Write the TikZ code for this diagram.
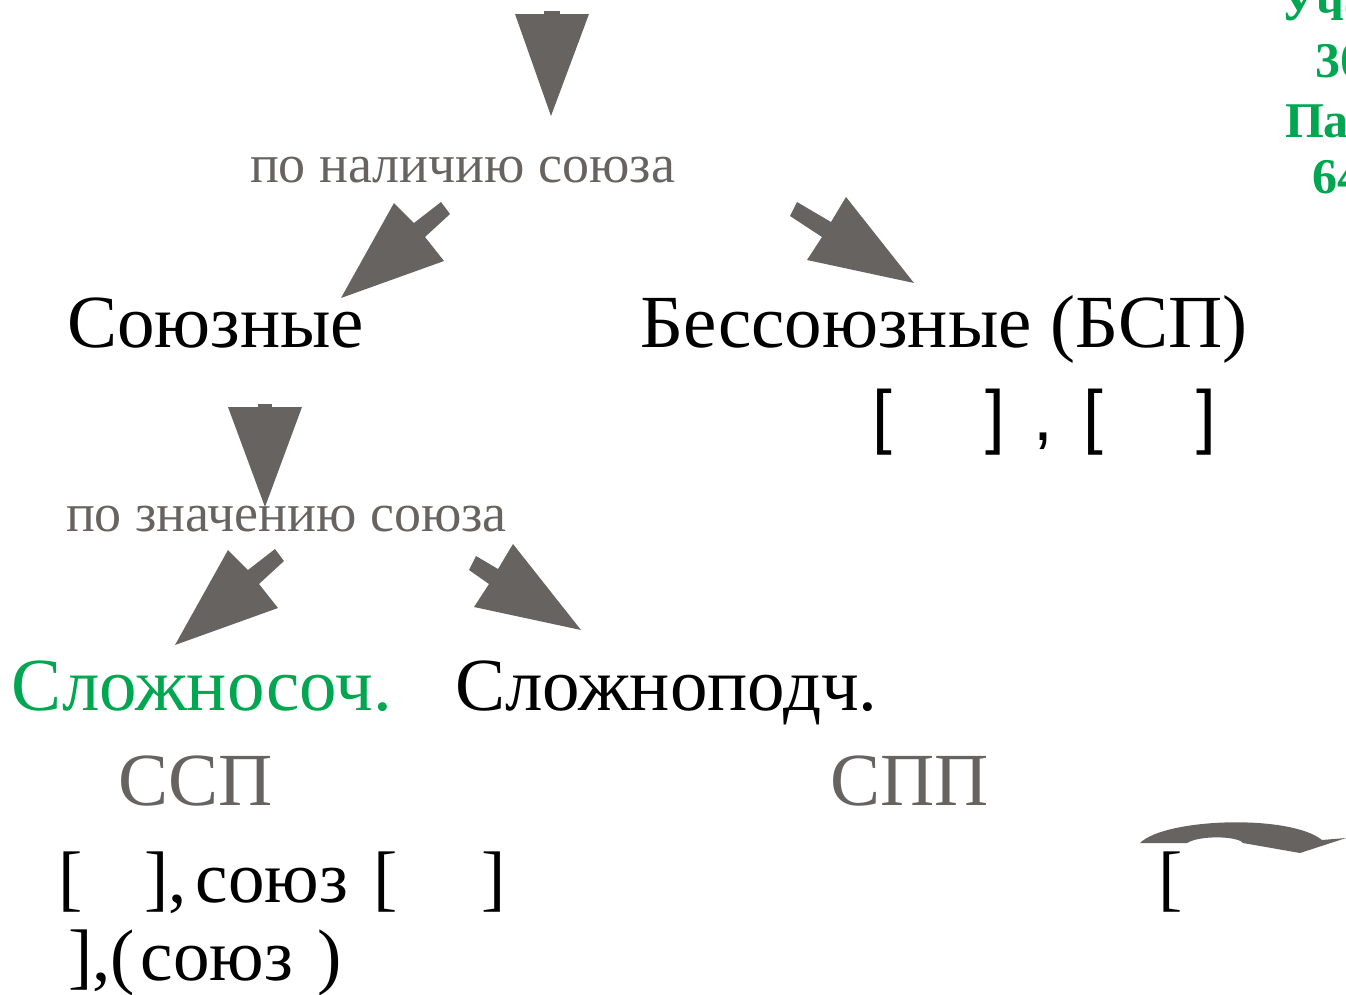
\documentclass[tikz,border=0pt]{standalone}
\usepackage{fontspec}
\setmainfont{Liberation Serif}
\newfontfamily\brfont{Liberation Sans}
\definecolor{arrgray}{HTML}{676361}
\definecolor{txtgray}{HTML}{676361}
\definecolor{mygreen}{HTML}{00A650}
\begin{document}
\begin{tikzpicture}[x=1pt,y=-1pt,
  lbl/.style={anchor=base west,inner sep=0pt,outer sep=0pt},
  big/.style={lbl,font=\fontsize{75}{80}\selectfont},
  grey/.style={lbl,text=txtgray,font=\fontsize{54}{58}\selectfont},
  side/.style={lbl,text=mygreen,font=\fontsize{50}{54}\selectfont\bfseries},
  blk/.style={fill=arrgray,draw=none}]
\useasboundingbox (0,0) rectangle (1346,994);
% top vertical arrow
\fill[blk] (544,11) rectangle (560,15);
\fill[blk] (515,14) -- (589,14) -- (551,116) -- cycle;
\node[grey] (t1) at (250,182) {по наличию союза};
% upper left arrow
\fill[blk] (341,298) -- (394,203) -- (414,223) -- (441,202) -- (450,214) -- (425,237) -- (444,261) -- cycle;
% upper right arrow
\fill[blk] (914,283) -- (846,197) -- (831,222) -- (797,202) -- (790,216) -- (822,237) -- (807,260) -- cycle;
\node[big] (soyuz) at (67,347) {Союзные};
\node[big] (bsp) at (640,347) {Бессоюзные (БСП)};
\node[lbl,font=\brfont\fontsize{71}{74}\selectfont] (bspf) at (872,440) {[\hspace{94pt}]\hspace{28pt},\hspace{30pt}[\hspace{94pt}]};
% second vertical arrow
\fill[blk] (258,404) rectangle (272,408);
\fill[blk] (228,407) -- (302,407) -- (265,507) -- cycle;
\node[grey] (t2) at (66,531) {по значению союза};
% lower left arrow
\begin{scope}[shift={(-166,347)}]
\fill[blk] (341,298) -- (394,203) -- (414,223) -- (441,202) -- (450,214) -- (425,237) -- (444,261) -- cycle;
\end{scope}
% lower right arrow
\begin{scope}[shift={(-333,347)}]
\fill[blk] (914,283) -- (846,197) -- (831,222) -- (809,209) -- (802,223) -- (822,237) -- (807,260) -- cycle;
\end{scope}
\node[big,text=mygreen] (ssp) at (12,710) {Сложносоч.};
\node[big] (spp) at (455,710) {Сложноподч.};
\node[big,text=txtgray] (sspa) at (118,805) {ССП};
\node[big,text=txtgray] (sppa) at (830,805) {СПП};
\node[big,font=\fontsize{73}{76}\selectfont] (f1) at (58,902) {[\hspace{62pt}],\hspace{9pt}союз\hspace{7pt} [\hspace{84pt}]};
\node[big,font=\fontsize{73}{76}\selectfont] (f2) at (68,980) {],(\hspace{6pt}союз\hspace{24pt})};
% bottom right
\node[big,font=\fontsize{73}{76}\selectfont] (f3) at (1158,902) {[};
\fill[blk] (1140,843) .. controls (1165,818) and (1290,814) .. (1322,840)
  -- (1346,838) -- (1300,853) -- (1243,843)
  .. controls (1238,836) and (1200,835) .. (1187,843) -- cycle;
% green side text
\node[side] (g1) at (1280,20) {Учебник};
\node[side] (g2) at (1315,77) {30};
\node[side] (g3) at (1285,137) {Параграф};
\node[side] (g4) at (1312,193) {64};
\end{tikzpicture}
\end{document}
